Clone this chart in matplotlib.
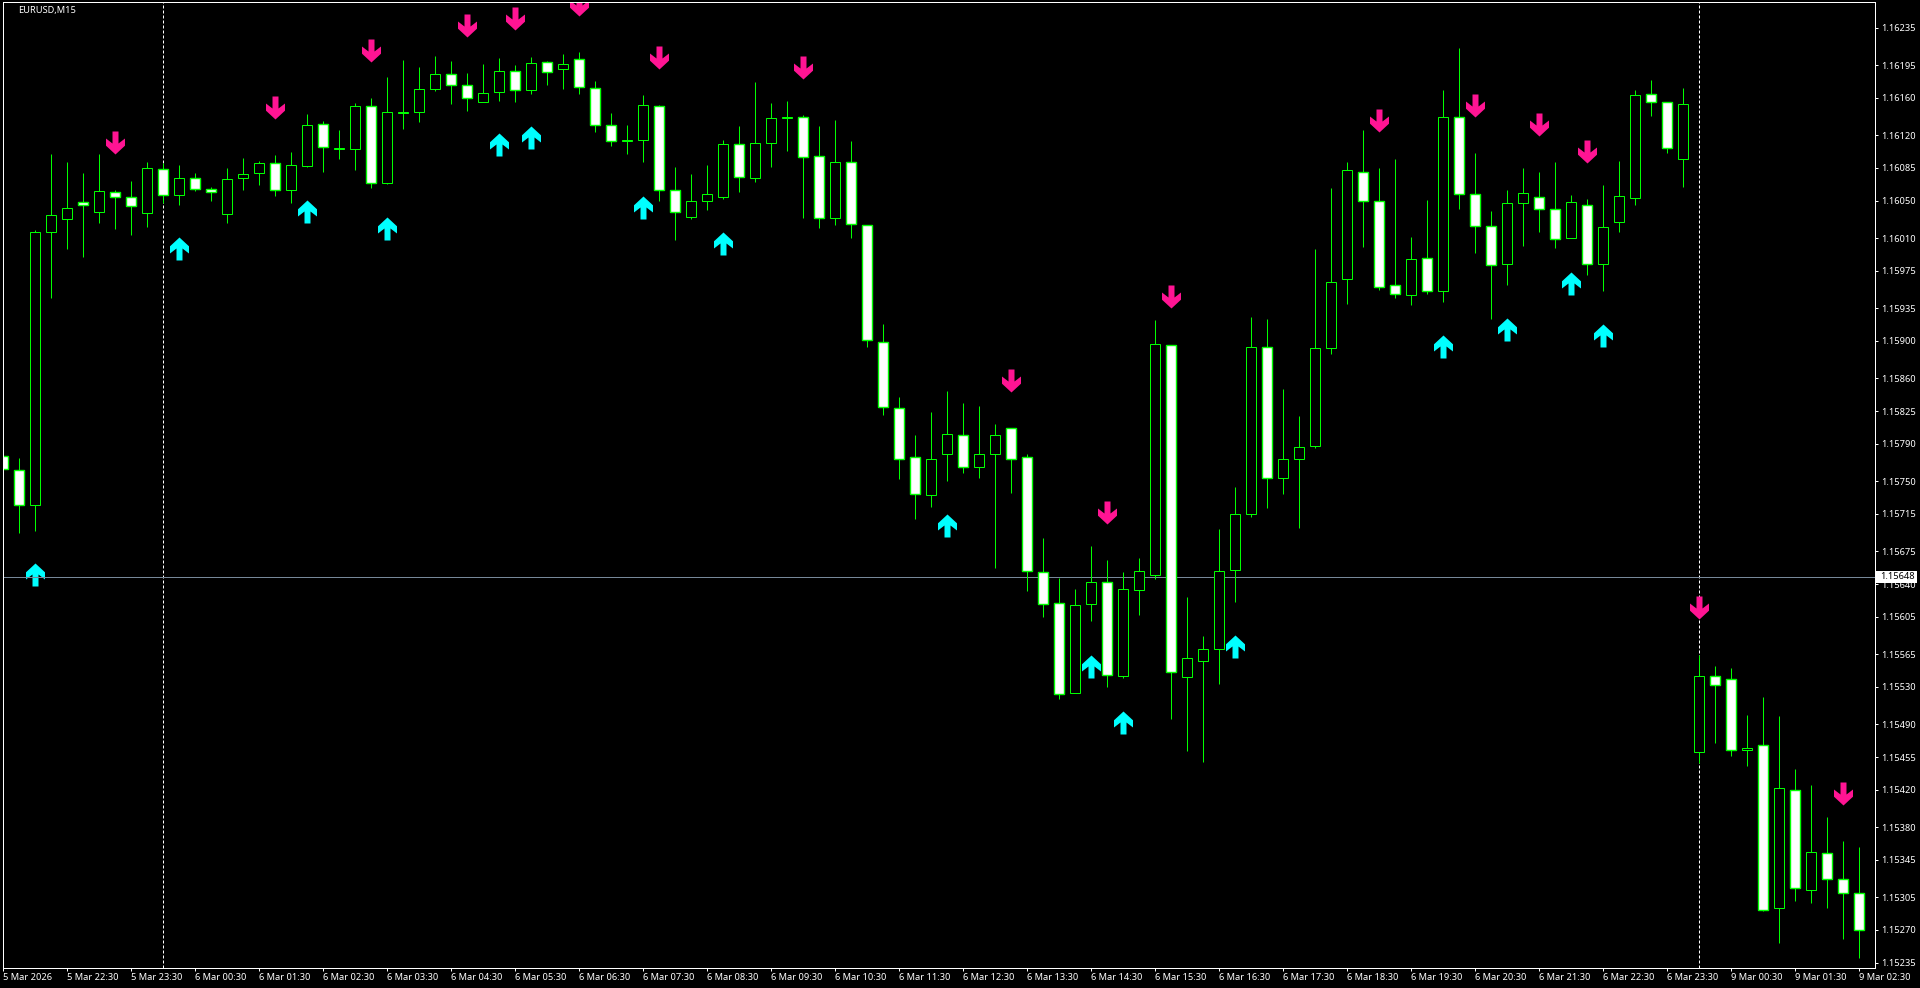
import numpy as np
import matplotlib
matplotlib.use("Agg")
import matplotlib.pyplot as plt
from matplotlib.path import Path
from matplotlib.patches import Rectangle
from matplotlib.transforms import blended_transform_factory

opens = [
1.15777,1.15762,1.15724,1.16016,1.16030,1.16049,1.16038,1.16059,1.16054,1.16037,
1.16084,1.16056,1.16074,1.16062,1.16036,1.16074,1.16080,1.16090,1.16061,1.16087,
1.16132,1.16105,1.16105,1.16151,1.16069,1.16144,1.16145,1.16169,1.16185,1.16174,
1.16156,1.16166,1.16189,1.16168,1.16198,1.16191,1.16202,1.16171,1.16131,1.16114,
1.16115,1.16151,1.16061,1.16033,1.16050,1.16054,1.16111,1.16074,1.16112,1.16138,
1.16140,1.16098,1.16032,1.16091,1.16024,1.15899,1.15828,1.15776,1.15735,1.15779,
1.15799,1.15765,1.15779,1.15807,1.15776,1.15653,1.15620,1.15523,1.15619,1.15642,
1.15542,1.15634,1.15650,1.15896,1.15541,1.15558,1.15571,1.15655,1.15715,1.15893,
1.15753,1.15774,1.15788,1.15892,1.15966,1.16081,1.16050,1.15960,1.15949,1.15989,
1.15953,1.16140,1.16057,1.16023,1.15982,1.16048,1.16054,1.16041,1.16010,1.16045,
1.15982,1.16027,1.16053,1.16164,1.16155,1.16095,1.15460,1.15542,1.15538,1.15462,
1.15468,1.15293,1.15420,1.15313,1.15352,1.15325,1.15310]
highs = [
1.15780,1.15775,1.16019,1.16100,1.16091,1.16080,1.16100,1.16061,1.16071,1.16091,
1.16090,1.16088,1.16080,1.16065,1.16085,1.16096,1.16092,1.16099,1.16102,1.16143,
1.16135,1.16126,1.16154,1.16160,1.16182,1.16200,1.16193,1.16205,1.16199,1.16187,
1.16196,1.16203,1.16195,1.16204,1.16199,1.16207,1.16209,1.16178,1.16144,1.16131,
1.16163,1.16152,1.16086,1.16079,1.16088,1.16115,1.16130,1.16177,1.16154,1.16157,
1.16142,1.16130,1.16136,1.16114,1.16024,1.15918,1.15840,1.15799,1.15824,1.15846,
1.15834,1.15830,1.15811,1.15807,1.15779,1.15689,1.15646,1.15635,1.15681,1.15666,
1.15653,1.15668,1.15922,1.15896,1.15626,1.15584,1.15699,1.15744,1.15926,1.15923,
1.15849,1.15820,1.15998,1.16064,1.16091,1.16126,1.16085,1.16095,1.16011,1.16051,
1.16168,1.16213,1.16101,1.16039,1.16061,1.16085,1.16081,1.16091,1.16056,1.16052,
1.16067,1.16092,1.16168,1.16179,1.16155,1.16171,1.15564,1.15552,1.15550,1.15500,
1.15519,1.15499,1.15442,1.15425,1.15391,1.15365,1.15359]
lows = [
1.15705,1.15695,1.15697,1.15946,1.15998,1.15990,1.16026,1.16020,1.16013,1.16022,
1.16048,1.16045,1.16060,1.16050,1.16026,1.16061,1.16067,1.16055,1.16047,1.16086,
1.16081,1.16095,1.16083,1.16064,1.16068,1.16127,1.16134,1.16167,1.16153,1.16146,
1.16156,1.16157,1.16156,1.16164,1.16174,1.16169,1.16164,1.16123,1.16108,1.16100,
1.16091,1.16050,1.16008,1.16030,1.16040,1.16052,1.16059,1.16070,1.16086,1.16103,
1.16032,1.16021,1.16024,1.16010,1.15894,1.15821,1.15752,1.15710,1.15722,1.15750,
1.15759,1.15753,1.15657,1.15737,1.15633,1.15605,1.15517,1.15523,1.15600,1.15530,
1.15539,1.15607,1.15645,1.15496,1.15461,1.15450,1.15533,1.15621,1.15712,1.15721,
1.15736,1.15700,1.15785,1.15886,1.15939,1.16000,1.15954,1.15946,1.15938,1.15950,
1.15942,1.16041,1.15994,1.15923,1.15960,1.16001,1.16016,1.15999,1.16010,1.15970,
1.15953,1.16017,1.16045,1.16141,1.16101,1.16065,1.15449,1.15470,1.15456,1.15445,
1.15290,1.15256,1.15301,1.15299,1.15293,1.15260,1.15240]
closes = [
1.15763,1.15724,1.16017,1.16035,1.16042,1.16045,1.16060,1.16054,1.16044,1.16085,
1.16056,1.16074,1.16063,1.16059,1.16073,1.16078,1.16090,1.16061,1.16088,1.16131,
1.16107,1.16106,1.16151,1.16069,1.16145,1.16145,1.16169,1.16185,1.16174,1.16160,
1.16165,1.16189,1.16168,1.16197,1.16188,1.16196,1.16172,1.16131,1.16114,1.16115,
1.16152,1.16061,1.16038,1.16050,1.16057,1.16111,1.16075,1.16112,1.16138,1.16139,
1.16097,1.16032,1.16091,1.16025,1.15901,1.15829,1.15774,1.15736,1.15774,1.15800,
1.15765,1.15779,1.15799,1.15774,1.15654,1.15619,1.15522,1.15618,1.15642,1.15543,
1.15635,1.15654,1.15897,1.15546,1.15561,1.15570,1.15654,1.15715,1.15894,1.15753,
1.15774,1.15787,1.15892,1.15963,1.16083,1.16050,1.15958,1.15950,1.15988,1.15953,
1.16139,1.16057,1.16023,1.15981,1.16047,1.16058,1.16041,1.16009,1.16049,1.15982,
1.16022,1.16055,1.16163,1.16155,1.16106,1.16153,1.15542,1.15532,1.15462,1.15465,
1.15291,1.15422,1.15315,1.15353,1.15324,1.15310,1.15270]

time_labels = [
"5 Mar 2026","5 Mar 22:30","5 Mar 23:30","6 Mar 00:30","6 Mar 01:30","6 Mar 02:30",
"6 Mar 03:30","6 Mar 04:30","6 Mar 05:30","6 Mar 06:30","6 Mar 07:30","6 Mar 08:30",
"6 Mar 09:30","6 Mar 10:30","6 Mar 11:30","6 Mar 12:30","6 Mar 13:30","6 Mar 14:30",
"6 Mar 15:30","6 Mar 16:30","6 Mar 17:30","6 Mar 18:30","6 Mar 19:30","6 Mar 20:30",
"6 Mar 21:30","6 Mar 22:30","6 Mar 23:30","9 Mar 00:30","9 Mar 01:30","9 Mar 02:30"]
time_ticks = [0,4,8,12,16,20,24,28,32,36,40,44,48,52,56,60,64,68,72,76,80,84,88,92,96,100,104,108,112,116]

price_ticks = [1.16235,1.16195,1.16160,1.16120,1.16085,1.16050,1.16010,1.15975,1.15935,1.15900,
               1.15860,1.15825,1.15790,1.15750,1.15715,1.15675,1.15640,1.15605,1.15565,1.15530,
               1.15490,1.15455,1.15420,1.15380,1.15345,1.15305,1.15270,1.15235]

buy_bars   = [2,11,19,24,31,33,40,45,59,68,70,77,90,94,98,100]
buy_prices = [1.15662,1.16011,1.16051,1.16033,1.16122,1.16130,1.16055,1.16017,
              1.15715,1.15564,1.15504,1.15586,1.15906,1.15925,1.15974,1.15918]
sell_bars   = [7,17,23,29,32,36,41,50,63,69,73,86,92,96,99,106,115]
sell_prices = [1.16100,1.16137,1.16198,1.16225,1.16233,1.16248,1.16191,1.16180,1.15845,
               1.15704,1.15935,1.16123,1.16139,1.16119,1.16090,1.15603,1.15404]

separator_bars = [10,106]
last_price = 1.15648
title = "EURUSD,M15"

W, H = 1920, 988
PX = 72/100
GREEN, PINK, AQUA = "#00ff00", "#ff1493", "#00ffff"
FONT = "Noto Sans"
FS = 6.7

opens, highs, lows, closes = map(np.array, (opens, highs, lows, closes))
bars = np.arange(len(opens))

fig = plt.figure(figsize=(W/100, H/100), dpi=100, facecolor="black")
left, right, top, bottom = 2.5, 1874.5, 2.5, 967.5
ax = fig.add_axes([left/W, 1-bottom/H, (right-left)/W, (bottom-top)/H], facecolor="black")
ax.set_xlim((left-3.3)/16, (right-3.3)/16)
ax.set_ylim(1.16235-(bottom-27.7)/93500, 1.16235-(top-27.7)/93500)

ax.vlines(separator_bars, 0, 1, transform=ax.get_xaxis_transform(), colors="white",
          linewidth=PX, linestyles=(0,(3,2)), zorder=1)

def arrow(direction):
    shape = np.array([(0,0),(9.5,8.8),(9.5,16),(3,11),(3,23),(-3,23),(-3,11),(-9.5,16),(-9.5,8.8),(0,0)])
    shape[:,1] *= direction
    return Path(shape, closed=True)

MS = (2*23*PX)**2
ax.scatter(sell_bars, sell_prices, marker=arrow(1), s=MS, c=PINK, linewidths=0, zorder=1.6)
ax.scatter(buy_bars, buy_prices, marker=arrow(-1), s=MS, c=AQUA, linewidths=0, zorder=1.6)

ax.axhline(last_price, color="#778899", linewidth=PX, zorder=2)

ax.vlines(bars, lows, highs, colors=GREEN, linewidth=PX, zorder=3)
up = closes >= opens
ax.bar(bars[up], (closes-opens)[up], bottom=opens[up], width=10/16, facecolor="black",
       edgecolor=GREEN, linewidth=PX, zorder=3.1)
ax.bar(bars[~up], (closes-opens)[~up], bottom=opens[~up], width=10/16, facecolor="white",
       edgecolor=GREEN, linewidth=1.4*PX, zorder=3.2)

for s in ax.spines.values():
    s.set_color("white"); s.set_linewidth(PX); s.set_zorder(5)

ax.yaxis.tick_right()
ax.set_yticks(price_ticks)
ax.set_yticklabels([f"{p:.5f}" for p in price_ticks], fontsize=FS, family=FONT, color="white")
ax.tick_params(axis="y", length=3*PX, width=PX, color="white", pad=3.0)
ax.set_xticks(time_ticks)
ax.set_xticklabels(time_labels, fontsize=FS, family=FONT, color="white", ha="left")
ax.tick_params(axis="x", length=3*PX, width=PX, color="white", pad=1.5)

fig.text(18/W, 1-10.8/H, title, color="white", fontsize=FS, family=FONT, va="center", ha="left")

tr = blended_transform_factory(fig.transFigure, ax.transData)
ax.add_patch(Rectangle((1876/W, last_price-6/93500), 41/W, 12/93500, transform=tr, facecolor="white",
                       edgecolor="none", clip_on=False, zorder=10))
ax.text(1880/W, last_price, f"{last_price:.5f}", transform=tr, color="black", fontsize=FS, family=FONT,
        va="center", ha="left", clip_on=False, zorder=11)

fig.savefig("out.png", dpi=100, facecolor="black")
